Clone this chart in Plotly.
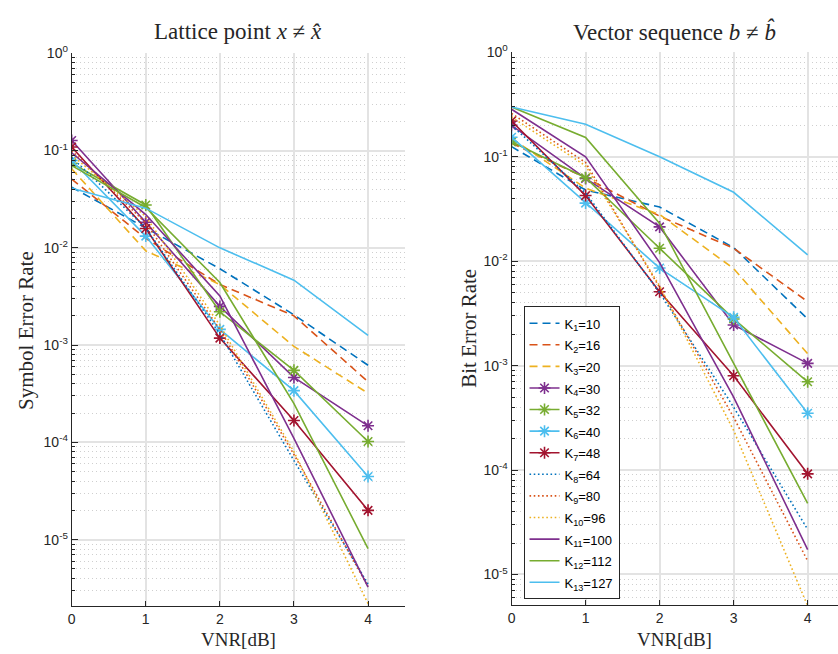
import plotly.graph_objects as go

vnr = [0, 1, 2, 3, 4]
k_values = [10, 16, 20, 30, 32, 40, 48, 64, 80, 96, 100, 112, 127]

# Symbol error rate (left panel)
ser_k1 = [0.042, 0.016, 0.0061, 0.00205, 6.2e-4]
ser_k2 = [0.051, 0.0125, 0.0042, 0.0020, 4.2e-4]
ser_k3 = [0.065, 0.0093, 0.0042, 9.7e-4, 3.2e-4]
ser_k4 = [0.127, 0.0183, 0.0025, 4.65e-4, 1.48e-4]
ser_k5 = [0.074, 0.0276, 0.0022, 5.5e-4, 1.02e-4]
ser_k6 = [0.079, 0.0132, 0.00145, 3.4e-4, 4.45e-5]
ser_k7 = [0.109, 0.0158, 0.00118, 1.68e-4, 2.0e-5]
ser_k8 = [0.085, 0.016, 0.0013, 6.5e-5, 3.5e-6]
ser_k9 = [0.10, 0.018, 0.00145, 7.5e-5, 3.3e-6]
ser_k10 = [0.09, 0.021, 0.0016, 8.0e-5, 2.2e-6]
ser_k11 = [0.095, 0.022, 0.0032, 1.1e-4, 3.25e-6]
ser_k12 = [0.070, 0.026, 0.0044, 2.5e-4, 8.1e-6]
ser_k13 = [0.041, 0.0256, 0.0100, 0.00465, 1.26e-3]

# Bit error rate (right panel)
ber_k1 = [0.125, 0.048, 0.033, 0.0135, 2.8e-3]
ber_k2 = [0.135, 0.063, 0.027, 0.0133, 4.1e-3]
ber_k3 = [0.15, 0.050, 0.028, 0.0085, 1.3e-3]
ber_k4 = [0.20, 0.062, 0.0213, 2.45e-3, 1.05e-3]
ber_k5 = [0.139, 0.063, 0.0133, 2.8e-3, 7.0e-4]
ber_k6 = [0.154, 0.036, 0.0086, 2.9e-3, 3.5e-4]
ber_k7 = [0.22, 0.0425, 0.0051, 8.0e-4, 9.2e-5]
ber_k8 = [0.20, 0.045, 0.0050, 4.0e-4, 2.7e-5]
ber_k9 = [0.26, 0.088, 0.0056, 3.2e-4, 1.35e-5]
ber_k10 = [0.24, 0.082, 0.0058, 2.4e-4, 5.0e-6]
ber_k11 = [0.285, 0.10, 0.0097, 5.0e-4, 1.73e-5]
ber_k12 = [0.30, 0.153, 0.023, 1.05e-3, 4.8e-5]
ber_k13 = [0.30, 0.205, 0.100, 0.0457, 0.0115]

ser_all = [ser_k1, ser_k2, ser_k3, ser_k4, ser_k5, ser_k6, ser_k7,
           ser_k8, ser_k9, ser_k10, ser_k11, ser_k12, ser_k13]
ber_all = [ber_k1, ber_k2, ber_k3, ber_k4, ber_k5, ber_k6, ber_k7,
           ber_k8, ber_k9, ber_k10, ber_k11, ber_k12, ber_k13]

blue, orange, yellow = "#0072BD", "#D95319", "#EDB120"
purple, green, cyan, red = "#7E2F8E", "#77AC30", "#4DBEEE", "#A2142F"
colors = [blue, orange, yellow, purple, green, cyan, red,
          blue, orange, yellow, purple, green, cyan]
DASH = "8px,5px"
DOT = "1.6px,2.6px"
dashes = [DASH] * 3 + ["solid"] * 4 + [DOT] * 3 + ["solid"] * 3
markers = [False] * 3 + [True] * 4 + [False] * 6

fig = go.Figure()
for panel, data in ((1, ser_all), (2, ber_all)):
    for i, ys in enumerate(data):
        c = colors[i]
        kw = dict(
            x=vnr, y=ys,
            name=f'<span style="font-size:13px">K<sub>{i+1}</sub>={k_values[i]}</span>',
            line=dict(color=c, width=1.6, dash=dashes[i]),
            showlegend=(panel == 2),
            xaxis="x" if panel == 1 else "x2",
            yaxis="y" if panel == 1 else "y2",
        )
        if markers[i]:
            kw["mode"] = "lines+markers"
            kw["marker"] = dict(symbol="asterisk-open", size=10,
                                line=dict(color=c, width=1.6), color=c)
        else:
            kw["mode"] = "lines"
        fig.add_trace(go.Scatter(**kw))

W, H = 838, 654
exps = [0, -1, -2, -3, -4, -5]
tickvals = [10.0 ** e for e in exps]
ticktext = [f"10<sup>{e}</sup>" for e in exps]
minor_vals = [m * 10.0 ** e for e in range(-6, 0) for m in range(2, 10)]

tickfont = dict(family="Liberation Sans, Arial, sans-serif", size=14, color="#262626")
serif = "Liberation Serif, Times New Roman, serif"


def yaxis_cfg(rng, dom):
    return dict(
        type="log", range=rng, domain=dom,
        tickmode="array", tickvals=tickvals, ticktext=ticktext,
        ticks="inside", ticklen=6, tickwidth=1, tickcolor="#262626",
        showline=True, linecolor="#262626", linewidth=1,
        showgrid=True, gridcolor="#E3E3E3", gridwidth=1.5,
        zeroline=False, tickfont=tickfont,
        minor=dict(tickmode="array", tickvals=minor_vals, ticks="inside",
                   ticklen=3, tickcolor="#262626", showgrid=True,
                   gridcolor="#CFCFCF", griddash="1px,3px", gridwidth=1),
    )


def xaxis_cfg(rng, dom, anchor):
    return dict(
        range=rng, domain=dom, anchor=anchor,
        tickmode="array", tickvals=vnr, ticktext=[str(v) for v in vnr],
        ticks="inside", ticklen=5, tickcolor="#262626",
        showline=True, linecolor="#262626", linewidth=1,
        showgrid=True, gridcolor="#E3E3E3", gridwidth=1.5,
        zeroline=False, tickfont=tickfont,
    )


fig.update_layout(
    width=W, height=H,
    margin=dict(l=0, r=0, t=0, b=0),
    paper_bgcolor="white", plot_bgcolor="white",
    xaxis=xaxis_cfg([0, 4.5], [68 / W, 403 / W], "y"),
    yaxis=yaxis_cfg([-5.68, 0], [1 - 605 / H, 1 - 44 / H]),
    xaxis2=xaxis_cfg([0, 4.41], [510 / W, 1.0], "y2"),
    yaxis2=dict(anchor="x2", **yaxis_cfg([-5.29, 0], [1 - 604 / H, 1 - 43 / H])),
    legend=dict(x=522 / W, y=1 - 301 / H, xanchor="left", yanchor="top",
                bgcolor="white", bordercolor="#262626", borderwidth=1,
                font=dict(family="Liberation Sans, Arial, sans-serif", size=14.3, color="black"),
                itemwidth=30),
    showlegend=True,
)
fig.layout.yaxis.anchor = "x"

titles = [
    ("Lattice point <i>x</i> ≠ <i>x̂</i>", 235.5),
    ("Vector sequence <i>b</i> ≠ <i>b̂</i>", 674),
]
for txt, xc in titles:
    fig.add_annotation(xref="paper", yref="paper", x=xc / W, y=1 - 22 / H,
                       text=txt, showarrow=False, xanchor="center", yanchor="middle",
                       font=dict(family=serif, size=23, color="#262626"))
for xc in (235.5, 674):
    fig.add_annotation(xref="paper", yref="paper", x=xc / W, y=1 - 639 / H,
                       text="VNR[dB]", showarrow=False, xanchor="center", yanchor="middle",
                       font=dict(family=serif, size=19, color="#262626"))
fig.add_annotation(xref="paper", yref="paper", x=22 / W, y=1 - 325 / H,
                   text="Symbol Error Rate", showarrow=False, textangle=-90,
                   xanchor="center", yanchor="middle",
                   font=dict(family=serif, size=21, color="#262626"))
fig.add_annotation(xref="paper", yref="paper", x=467 / W, y=1 - 323 / H,
                   text="Bit Error Rate", showarrow=False, textangle=-90,
                   xanchor="center", yanchor="middle",
                   font=dict(family=serif, size=21, color="#262626"))

fig.write_html("out.html")
